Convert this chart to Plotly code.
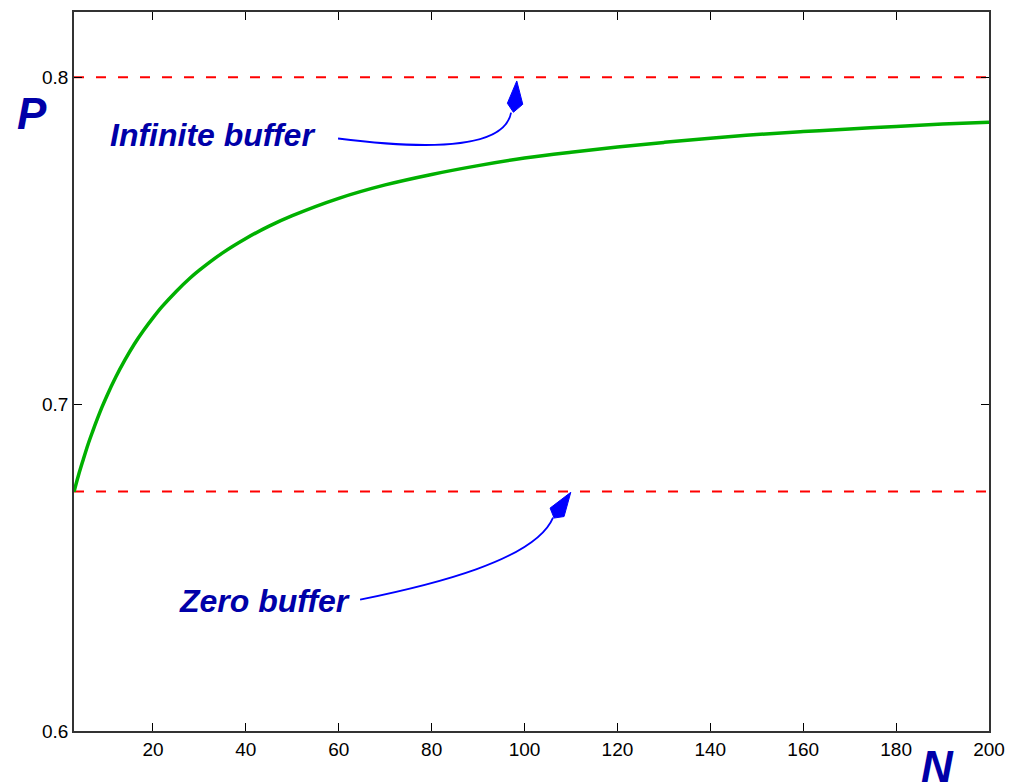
import plotly.graph_objects as go

# ---- data ----
N = [3, 4, 5, 6, 7, 8, 9, 10, 12, 14, 16, 18, 20, 22, 25, 28, 30, 35, 40, 45,
     50, 60, 70, 80, 90, 100, 110, 120, 130, 140, 150, 160, 170, 180, 190, 200]
P = [0.6732, 0.6784, 0.6831, 0.6876, 0.6916, 0.6954, 0.6990, 0.7023, 0.7083,
     0.7136, 0.7184, 0.7226, 0.7264, 0.7299, 0.7345, 0.7386, 0.7410, 0.7463,
     0.7507, 0.7545, 0.7577, 0.7630, 0.7671, 0.7703, 0.7730, 0.7753, 0.7771,
     0.7787, 0.7801, 0.7814, 0.7825, 0.7834, 0.7842, 0.7850, 0.7857, 0.7863]
INFINITE_LEVEL = 0.8
ZERO_LEVEL = 0.6733
X_RANGE = [3, 200]
Y_RANGE = [0.6, 0.82]
X_TICKS = [20, 40, 60, 80, 100, 120, 140, 160, 180, 200]
Y_TICKS = [0.6, 0.7, 0.8]
Y_TICK_LABELS = ["0.6", "0.7", "0.8"]

TEXT_BLUE = "#0000a8"
ARROW_BLUE = "#0000ff"
FONT = "Liberation Sans, Arial, sans-serif"

fig = go.Figure()

for lvl in (INFINITE_LEVEL, ZERO_LEVEL):
    fig.add_trace(go.Scatter(x=X_RANGE, y=[lvl, lvl], mode="lines",
                             line=dict(color="#ff0000", width=2, dash="10px,12px"),
                             showlegend=False, hoverinfo="skip"))

fig.add_trace(go.Scatter(x=N, y=P, mode="lines",
                         line=dict(color="#00b000", width=3.5, shape="spline", smoothing=1),
                         showlegend=False))

# curved arrows (data coordinates)
def curve(p0, p1, p2, p3):
    return "M {},{} C {},{} {},{} {},{}".format(*p0, *p1, *p2, *p3)

def kite(tip, left, back, right):
    return "M {},{} L {},{} L {},{} L {},{} Z".format(*tip, *left, *back, *right)

shapes = [
    dict(type="path", xref="x", yref="y",
         path=curve((59.85, 0.78129), (81.81, 0.77733), (95.81, 0.77885), (97.10, 0.78923)),
         line=dict(color=ARROW_BLUE, width=1.8)),
    dict(type="path", xref="x", yref="y",
         path=kite((98.33, 0.79890), (96.30, 0.79207), (97.60, 0.78932), (99.62, 0.79176)),
         line=dict(color=ARROW_BLUE, width=1), fillcolor=ARROW_BLUE),
    dict(type="path", xref="x", yref="y",
         path=curve((64.6, 0.6402), (79.66, 0.64456), (102.27, 0.65219), (106.14, 0.66531)),
         line=dict(color=ARROW_BLUE, width=1.8)),
    dict(type="path", xref="x", yref="y",
         path=kite((109.96, 0.67304), (105.5, 0.66821), (106.36, 0.66516), (108.51, 0.66562)),
         line=dict(color=ARROW_BLUE, width=1), fillcolor=ARROW_BLUE),
]

label_font = dict(family=FONT, size=32, color=TEXT_BLUE, weight="bold", style="italic")
big_font = dict(family=FONT, size=44, color=TEXT_BLUE, weight="bold", style="italic")
annotations = [
    dict(x=32.9, y=0.7825, xref="x", yref="y", text="Infinite buffer", showarrow=False,
         font=label_font, xanchor="center", yanchor="middle"),
    dict(x=44.0, y=0.6397, xref="x", yref="y", text="Zero buffer", showarrow=False,
         font=label_font, xanchor="center", yanchor="middle"),
    dict(x=-0.046, y=0.8585, xref="paper", yref="paper", text="P", showarrow=False,
         font=big_font, xanchor="center", yanchor="middle"),
    dict(x=0.944, y=-0.050, xref="paper", yref="paper", text="N", showarrow=False,
         font=big_font, xanchor="center", yanchor="middle"),
]

axis_common = dict(showgrid=False, zeroline=False, showline=True, linecolor="#333333",
                   linewidth=1.5, mirror="ticks", ticks="inside", ticklen=8,
                   tickcolor="#000000", tickwidth=1,
                   tickfont=dict(family=FONT, size=19, color="#000000"))

fig.update_layout(
    width=1017, height=783,
    margin=dict(l=74, r=28, t=10, b=52),
    paper_bgcolor="white", plot_bgcolor="white",
    xaxis=dict(range=X_RANGE, tickvals=X_TICKS, **axis_common),
    yaxis=dict(range=Y_RANGE, tickvals=Y_TICKS, ticktext=Y_TICK_LABELS, **axis_common),
    shapes=shapes, annotations=annotations, showlegend=False,
)

fig.write_html("out.html")
